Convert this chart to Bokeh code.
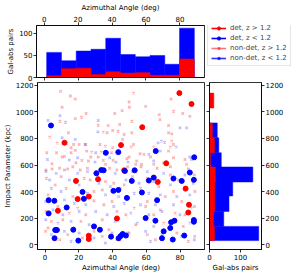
import math
from bokeh.plotting import figure
from bokeh.layouts import column, row
from bokeh.models import (Range1d, FixedTicker, Label, Legend, LegendItem,
                          LinearAxis)
from bokeh.embed import file_html
from bokeh.resources import INLINE

# ---------------- data ----------------
# detections, z > 1.2 (red)
det_hi_az = [11.5, 18.3, 19.3, 7.6, 25.9, 31.4, 25.9, 25.9, 45.0, 46.9,
             42.6, 57.6, 66.8, 71.8, 79.6, 86.8, 83.3, 85.3, 84.9]
det_hi_b = [768, 480, 343, 255, 362, 493, 67, 42, 750, 560,
            197, 885, 472, 613, 1142, 1060, 422, 300, 242]
# detections, z < 1.2 (blue)
det_lo_az = [3.5, 2.1, 2.1, 5.5, 6.0, 7.0, 5.6, 12.8, 16.7, 19.7,
             22.2, 23.0, 29.0, 30.4, 32.5, 33.3, 34.7, 36.0, 39.1, 40.5,
             43.4, 43.4, 43.6, 44.8, 46.0, 47.9, 48.5, 47.3, 51.4, 53.1,
             57.4, 59.6, 61.5, 64.4, 65.6, 65.4, 66.4, 70.3, 69.3, 74.2,
             74.7, 76.7, 76.1, 75.7, 81.0, 82.5, 85.8, 88.4, 88.2, 88.2, 88.2]
det_lo_b = [898, 335, 235, 330, 110, 110, 48, 280, 112, 30,
            397, 345, 137, 538, 112, 562, 560, 692, 60, 405,
            412, 697, 48, 65, 80, 68, 352, 555, 480, 560,
            393, 200, 483, 505, 705, 180, 335, 100, 48, 125,
            168, 180, 498, 38, 480, 68, 543, 658, 488, 185, 172]

# non-detections, z > 1.2 (azimuth, impact parameter)
nd_hi = [
    (9.2, 1155), (15.0, 1120), (17.9, 1097), (10.1, 1035), (24.3, 988), (21.6, 960),
    (17.9, 950), (8.8, 930), (41.3, 988), (45.7, 1010), (31.5, 900), (37.4, 897),
    (44.2, 905), (40.1, 860), (43.2, 855), (34.5, 848), (36.8, 843), (13.8, 843),
    (2.7, 810), (7.2, 765), (12.7, 765), (16.9, 755), (20.2, 755), (24.1, 755),
    (32.5, 755), (35.8, 742), (40.1, 730), (15.4, 730), (17.9, 710), (1.0, 692),
    (6.8, 692), (11.5, 665), (15.4, 692), (24.7, 705), (27.6, 697), (33.3, 697),
    (39.3, 692), (10.1, 660), (27.1, 660), (31.5, 660), (21.8, 635), (25.7, 630),
    (34.5, 635), (40.3, 635), (4.1, 610), (18.3, 617), (35.8, 605),
    (52.4, 1142), (49.8, 1075), (50.0, 1035), (59.6, 1042), (74.7, 1097), (76.1, 1005),
    (81.6, 988), (85.8, 967), (67.7, 980), (68.1, 942), (51.4, 930), (51.4, 843),
    (73.2, 898), (73.2, 843), (75.1, 835), (46.9, 830), (45.9, 793), (52.4, 755),
    (51.0, 735), (64.4, 735), (70.9, 772), (74.2, 735), (75.1, 780), (76.1, 755),
    (73.2, 705), (56.3, 685), (58.6, 680), (49.8, 660), (54.3, 630), (62.5, 660),
    (76.1, 655), (82.9, 642), (83.9, 605), (70.3, 617), (53.7, 605), (57.2, 605),
    (64.4, 605), (48.5, 647),
    (0.5, 562), (4.1, 570), (8.6, 575), (13.4, 570), (16.4, 587), (20.8, 562),
    (25.1, 575), (38.3, 575), (42.6, 562), (0.8, 500), (9.5, 512), (23.2, 500),
    (26.7, 487), (35.8, 475), (40.7, 462), (6.0, 450), (12.5, 425), (29.0, 400),
    (33.9, 412), (44.6, 425), (1.8, 375), (16.4, 362), (29.0, 330), (39.7, 325),
    (7.6, 287), (19.3, 275), (34.8, 300), (0.5, 250), (14.4, 237), (24.1, 225),
    (42.6, 250), (3.7, 175), (10.5, 187), (21.2, 175), (33.9, 187), (1.8, 125),
    (17.3, 125), (29.0, 100), (37.8, 112), (13.4, 75), (22.2, 50), (33.9, 62),
    (8.6, 37), (42.6, 37), (0.3, 100),
    (48.9, 587), (56.9, 587), (66.4, 575), (74.3, 587), (84.9, 570), (51.8, 512),
    (60.6, 500), (74.3, 525), (79.2, 487), (88.5, 525), (46.9, 450), (56.6, 425),
    (67.4, 437), (76.1, 400), (82.9, 412), (88.8, 400), (49.8, 350), (60.6, 325),
    (71.3, 362), (81.0, 325), (52.8, 275), (59.6, 287), (68.3, 262), (88.6, 287),
    (47.9, 225), (64.4, 225), (77.1, 237), (82.9, 225), (53.7, 150), (70.3, 162),
    (81.9, 137), (49.8, 87), (60.6, 75), (78.1, 87), (65.4, 37), (84.9, 25), (88.7, 62),
]
# non-detections, z < 1.2
nd_lo = [
    (1.8, 935), (8.8, 972), (12.1, 922), (31.5, 935), (31.3, 850), (10.1, 805),
    (17.9, 793), (23.7, 755), (30.0, 692), (14.4, 638), (19.3, 655), (29.6, 622),
    (1.4, 642), (38.3, 655), (42.0, 622),
    (80.0, 880), (83.9, 880), (67.0, 767), (68.9, 780), (77.7, 735), (61.5, 680),
    (68.3, 705), (64.4, 630), (49.2, 622), (86.8, 642), (85.8, 660),
    (0.5, 550), (6.6, 537), (11.5, 562), (19.3, 537), (25.1, 550), (30.9, 525),
    (41.6, 537), (2.7, 487), (14.4, 487), (20.2, 450), (31.9, 462), (38.7, 437),
    (3.7, 425), (9.5, 400), (25.1, 387), (35.8, 375), (43.6, 362), (0.4, 325),
    (11.5, 337), (17.3, 312), (24.1, 300), (40.7, 287), (4.7, 262), (10.5, 225),
    (20.2, 250), (30.0, 250), (36.8, 225), (0.4, 187), (7.6, 162), (15.4, 175),
    (26.1, 150), (41.6, 175), (3.7, 75), (11.5, 100), (20.2, 87), (29.0, 50),
    (39.7, 87), (15.4, 25), (35.8, 12),
    (51.8, 550), (60.6, 550), (70.3, 537), (82.9, 525), (47.9, 487), (55.7, 462),
    (64.4, 475), (74.3, 450), (87.8, 462), (52.8, 387), (61.5, 387), (68.3, 375),
    (78.1, 362), (85.8, 375), (46.9, 312), (56.6, 300), (65.4, 300), (76.1, 300),
    (86.8, 275), (50.8, 237), (61.5, 225), (69.3, 250), (80.0, 225), (54.7, 162),
    (64.4, 137), (74.3, 175), (85.8, 162), (48.9, 87), (59.6, 100), (69.3, 75),
    (80.9, 62), (62.5, 25), (88.5, 37),
]

# azimuth histogram (top)
az_edges = [1.5, 10.2, 18.9, 27.6, 36.3, 45.0, 53.7, 62.4, 71.1, 79.8, 88.5]
az_counts_lo = [57, 38, 60, 64, 89, 52, 47, 50, 30, 112]
az_counts_hi = [4, 20, 21, 7, 13, 10, 11, 5, 5, 42]

# impact-parameter histogram (right)
b_edges = [30, 137, 250, 367, 472, 585, 692, 805, 917, 1030, 1142]
b_counts_lo = [159, 46, 63, 75, 140, 38, 30, 25, 0, 0]
b_counts_hi = [16, 13, 17, 17, 19, 3, 16, 9, 0, 14]

az_ticks = [0, 20, 40, 60, 80]
b_ticks = [0, 200, 400, 600, 800, 1000, 1200]
hist_az_ticks = [0, 50, 100]
hist_b_ticks = [0, 100]

legend_labels = ["det, z > 1.2", "det, z < 1.2", "non-det, z > 1.2", "non-det, z < 1.2"]

# ---------------- styling ----------------
FONT = "DejaVu Sans"
FS = "7px"
RED = "#ff0000"
BLUE = "#0000ff"
AZ_RANGE = (-4.5, 94.5)
B_RANGE = (-37, 1222)
NAN = float("nan")


def style_axis(ax, ticks, labels=True):
    ax.ticker = FixedTicker(ticks=ticks)
    ax.major_tick_out = 3
    ax.major_tick_in = 0
    ax.minor_tick_out = 0
    ax.minor_tick_in = 0
    ax.major_tick_line_width = 0.8
    ax.major_tick_line_color = "black"
    ax.axis_line_color = "black"
    ax.axis_line_width = 0.8
    ax.major_label_standoff = 1
    ax.major_label_text_font = FONT
    ax.major_label_text_font_size = FS
    ax.major_label_text_color = "black"
    if not labels:
        ax.major_label_overrides = {t: "" for t in ticks}
        ax.major_label_standoff = 0
    ax.axis_label_text_font = FONT
    ax.axis_label_text_font_size = FS
    ax.axis_label_text_font_style = "normal"
    ax.axis_label_text_color = "black"
    ax.axis_label_standoff = 1


def base(p):
    p.grid.visible = False
    p.outline_line_color = "black"
    p.outline_line_width = 0.8
    p.outline_line_alpha = 1.0
    p.background_fill_color = "white"
    p.border_fill_color = "white"


# ---------------- top histogram ----------------
top = figure(width=206, height=81, x_range=Range1d(*AZ_RANGE), y_range=Range1d(0, 118),
             x_axis_location="above", output_backend="svg", toolbar_location=None,
             min_border_left=36, min_border_right=2, min_border_top=25, min_border_bottom=4)
base(top)
top.quad(left=az_edges[:-1], right=az_edges[1:], bottom=0, top=az_counts_lo,
         fill_color=BLUE, line_color=BLUE, line_width=0.5)
top.quad(left=az_edges[:-1], right=az_edges[1:], bottom=0, top=az_counts_hi,
         fill_color=RED, line_color=RED, line_width=0.5)
style_axis(top.xaxis[0], az_ticks)
top.xaxis[0].axis_label = "Azimuthal Angle (deg)"
style_axis(top.yaxis[0], hist_az_ticks)
top.yaxis[0].axis_label = "Gal-abs pairs"
top_below = LinearAxis()
style_axis(top_below, az_ticks, labels=False)
top.add_layout(top_below, "below")

# ---------------- legend panel ----------------
leg = figure(width=93, height=81, x_range=Range1d(0, 1), y_range=Range1d(0, 1),
             output_backend="svg", toolbar_location=None,
             min_border_left=0, min_border_right=0, min_border_top=0, min_border_bottom=0)
leg.axis.visible = False
leg.grid.visible = False
leg.outline_line_color = None
leg.border_fill_color = "white"
styles = [(RED, 1.0, "circle"), (BLUE, 1.0, "circle"), (RED, 0.55, "x"), (BLUE, 0.8, "x")]
items = []
for lab, (col, alpha, mk) in zip(legend_labels, styles):
    rl = leg.line(x=[NAN], y=[NAN], line_color=col, line_alpha=alpha, line_width=1.6)
    if mk == "circle":
        rm = leg.scatter(x=[NAN], y=[NAN], marker="circle", size=5.5, fill_color=col,
                         line_color=col, fill_alpha=alpha, line_alpha=alpha)
    else:
        rm = leg.scatter(x=[NAN], y=[NAN], marker="x", size=5.5, line_color=col,
                         line_alpha=alpha, line_width=1.4)
    items.append(LegendItem(label=lab, renderers=[rl, rm]))
legend = Legend(items=items, location=(1, 11), label_text_font=FONT,
                label_text_font_size=FS, glyph_width=15, glyph_height=8,
                label_height=8, label_standoff=4, spacing=2, padding=3, margin=0,
                border_line_color="#cccccc", border_line_width=0.8,
                background_fill_alpha=0.9)
leg.add_layout(legend)

# ---------------- main scatter ----------------
main = figure(width=206, height=196, x_range=Range1d(*AZ_RANGE), y_range=Range1d(*B_RANGE),
              output_backend="svg", toolbar_location=None,
              min_border_left=36, min_border_right=2, min_border_top=1, min_border_bottom=28)
base(main)
main.scatter([a for a, b in nd_hi], [b for a, b in nd_hi], marker="x", size=3.5,
             line_color=RED, line_alpha=0.3, line_width=1.3)
main.scatter([a for a, b in nd_lo], [b for a, b in nd_lo], marker="x", size=3.5,
             line_color=BLUE, line_alpha=0.25, line_width=1.3)
main.scatter(det_hi_az, det_hi_b, marker="circle", size=5, fill_color=RED, line_color=RED)
main.scatter(det_lo_az, det_lo_b, marker="circle", size=5, fill_color=BLUE, line_color=BLUE)
style_axis(main.xaxis[0], az_ticks)
main.xaxis[0].axis_label = "Azimuthal Angle (deg)"
style_axis(main.yaxis[0], b_ticks)
main.yaxis[0].axis_label = "Impact Parameter (kpc)"

# ---------------- right histogram ----------------
right = figure(width=93, height=196, x_range=Range1d(0, 168), y_range=Range1d(*B_RANGE),
               y_axis_location="right", output_backend="svg", toolbar_location=None,
               min_border_left=3, min_border_right=38, min_border_top=1, min_border_bottom=28)
base(right)
right.quad(left=0, right=b_counts_lo, bottom=b_edges[:-1], top=b_edges[1:],
           fill_color=BLUE, line_color=BLUE, line_width=0.5)
right.quad(left=0, right=b_counts_hi, bottom=b_edges[:-1], top=b_edges[1:],
           fill_color=RED, line_color=RED, line_width=0.5)
style_axis(right.xaxis[0], hist_b_ticks)
right.xaxis[0].axis_label = "Gal-abs pairs"
style_axis(right.yaxis[0], b_ticks)
right_left = LinearAxis()
style_axis(right_left, b_ticks, labels=False)
right.add_layout(right_left, "left")
right.add_layout(Label(x=79.5, y=83.5, x_units="screen", y_units="screen",
                       text="Impact Parameter (kpc)", angle=math.pi / 2,
                       text_align="center", text_baseline="middle",
                       text_font=FONT, text_font_size=FS, text_color="black"))

layout = column(row(top, leg), row(main, right))
open("out.html", "w").write(file_html(layout, INLINE))
